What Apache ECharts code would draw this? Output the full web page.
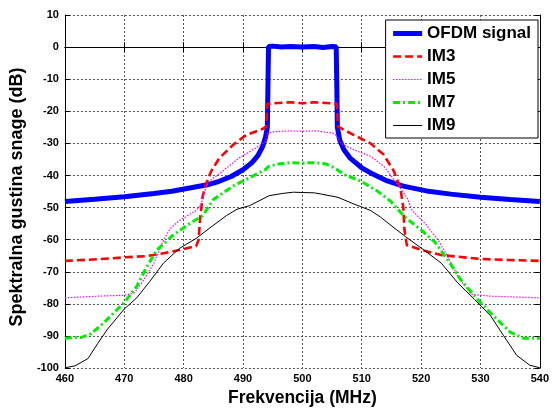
<!DOCTYPE html>
<html>
<head>
<meta charset="utf-8">
<script src="https://cdn.jsdelivr.net/npm/echarts@6/dist/echarts.min.js"></script>
<style>
html,body{margin:0;padding:0;background:#fff;}
#chart{width:552px;height:412px;}
</style>
</head>
<body>
<div id="chart"></div>
<script>
var seriesNames = ['OFDM signal', 'IM3', 'IM5', 'IM7', 'IM9'];
var xTicks = [460, 470, 480, 490, 500, 510, 520, 530, 540];
var yTicks = [10, 0, -10, -20, -30, -40, -50, -60, -70, -80, -90, -100];

var ofdmX = [460,465,470,475,478,481,484,486,488,490,491.5,492.5,493.3,493.8,494.1,494.2,494.3,495,496.5,498,500,502,503.5,505,505.7,505.8,505.9,506.3,507,508,508.7,510,511.5,514.3,517,520.9,525,530,535,540];
var ofdmY = [-48.1,-47.4,-46.6,-45.6,-44.9,-43.9,-42.9,-41.8,-40.3,-38.2,-36,-33.8,-31,-28,-25,-12,0.2,0.3,0,0.2,0,0.2,-0.1,0.2,0.1,-12,-25,-29,-32,-34.5,-35.6,-37.6,-39.2,-41.7,-43.3,-44.8,-45.8,-46.8,-47.5,-48.1];

var im3X = [460,465.5,470,473.9,476.6,479.3,482.1,482.5,482.8,483.2,483.8,484.6,486,488.3,490.5,493.3,493.9,494.1,496,498,500,502,504,505.8,506,508.7,511.5,513.7,515.4,516.5,517,517.2,517.6,520.1,523.4,526.2,530,534.5,540];
var im3Y = [-66.6,-66.1,-65.5,-65.1,-64.2,-63.2,-62,-60.2,-53,-46.5,-42.5,-38.8,-34.6,-30.5,-27.4,-25.5,-24.8,-17.7,-17.4,-17.2,-17.5,-17.2,-17.4,-17.6,-24.8,-27.4,-30,-33.5,-38.6,-43.8,-49.9,-57,-61.7,-63.2,-64.8,-65.3,-66,-66.3,-66.6];

var im5X = [460,465.5,470,471.7,473.3,475,476.6,477.7,479.3,482.1,482.9,483.5,484.2,486.6,489.3,492.1,493.8,494.1,495.1,497.5,500,502.5,505.4,506.5,508.7,511.5,513.7,515.4,517.6,518.5,520.7,522.9,524.5,526.2,528.4,531.7,535,540];
var im5Y = [-78.1,-77.6,-77.3,-76.6,-72.5,-67.3,-60.2,-56.6,-54,-50.9,-49.4,-45,-42,-38.6,-34.6,-31.5,-29.4,-26.9,-26.4,-26.1,-26.2,-26.1,-26.9,-30,-32,-34,-37.1,-41.2,-46.8,-50.9,-55,-60.2,-65.3,-71.4,-77,-77.6,-77.8,-78.1];

var im7X = [460,462.8,464.4,466.6,470,472.1,473.8,475.5,478.2,481,483.2,485,488.3,491.1,493.8,494.4,496,498,500,502,504,505.4,507,509.8,512.6,514.8,517.2,520.1,522.3,524.5,526.7,529.5,532.2,535,537.2,540];
var im7Y = [-90.7,-90.4,-89.3,-85.8,-79.6,-74.5,-68.4,-63.2,-58.6,-55,-52.5,-47.5,-43.3,-40.7,-38.1,-37.1,-36.4,-36,-36.1,-36,-36.4,-37.6,-39.7,-41.7,-44.8,-47.9,-52.8,-57.1,-60.7,-66.3,-72.5,-78.6,-83.7,-88.8,-90.7,-90.7];

var im9X = [460,461.7,463.9,465.5,467.2,470,472.1,474.3,476.6,479.3,482.1,484.8,487.2,489,491.1,494.4,496.6,498.5,500,502,503.2,506,508.7,511.5,513.2,515.1,517.4,520.1,523.4,526.2,529,531.7,533.9,536.1,538.3,540];
var im9Y = [-99.9,-99.3,-97,-92.4,-87.8,-81.6,-78.1,-73,-67.3,-62.7,-59.6,-55.8,-52.5,-50.5,-49.4,-46.3,-45.6,-45.2,-45.3,-45.4,-45.8,-46.8,-48.9,-50.9,-53,-55.8,-59.1,-62.7,-67.3,-73.5,-78.6,-83.7,-89.9,-96,-99.1,-99.9];

function zip(xs, ys) { return xs.map(function (x, i) { return [x, ys[i]]; }); }

var FONT = '"Liberation Sans", Arial, Helvetica, sans-serif';
var styles = [
  {color: '#0000ff', width: 5, type: 'solid'},
  {color: '#ff0000', width: 2.6, type: [8, 4]},
  {color: '#ff00ff', width: 1.2, type: [1.5, 1.5]},
  {color: '#00ee00', width: 3, type: [7, 3, 2, 3]},
  {color: '#000000', width: 1, type: 'solid'}
];
var datasets = [zip(ofdmX, ofdmY), zip(im3X, im3Y), zip(im5X, im5Y), zip(im7X, im7Y), zip(im9X, im9Y)];

var chart = echarts.init(document.getElementById('chart'), null, {renderer: 'canvas'});
var gridLine = {show: true, lineStyle: {color: '#555', type: [2, 2], width: 1}};
var axisLineStyle = {show: true, lineStyle: {color: '#000', width: 1}};
var labelStyle = {color: '#000', fontWeight: 'bold', fontSize: 11, fontFamily: FONT};

chart.setOption({
  animation: false,
  backgroundColor: '#fff',
  grid: {left: 59, right: 10, top: 15, bottom: 39, containLabel: false},
  xAxis: [{
    type: 'value', min: xTicks[0], max: xTicks[xTicks.length - 1], interval: 10,
    position: 'bottom',
    axisLine: axisLineStyle,
    axisTick: {show: true, inside: true, length: 5, lineStyle: {color: '#000'}},
    axisLabel: Object.assign({margin: 5}, labelStyle),
    splitLine: gridLine,
    name: 'Frekvencija (MHz)', nameLocation: 'middle', nameGap: 17,
    nameTextStyle: {color: '#000', fontWeight: 'bold', fontSize: 17.5, fontFamily: FONT}
  }, {
    type: 'value', min: xTicks[0], max: xTicks[xTicks.length - 1], interval: 10,
    position: 'top',
    axisLine: axisLineStyle,
    axisTick: {show: true, inside: true, length: 5, lineStyle: {color: '#000'}},
    axisLabel: {show: false}, splitLine: {show: false}
  }],
  yAxis: [{
    type: 'value', min: yTicks[yTicks.length - 1], max: yTicks[0], interval: 10,
    position: 'left',
    axisLine: axisLineStyle,
    axisTick: {show: true, inside: true, length: 5, lineStyle: {color: '#000'}},
    axisLabel: Object.assign({margin: 6}, labelStyle),
    splitLine: gridLine,
    name: 'Spektralna gustina snage (dB)', nameLocation: 'middle', nameGap: 30,
    nameTextStyle: {color: '#000', fontWeight: 'bold', fontSize: 18, fontFamily: FONT, padding: [0, 11, 0, 0]}
  }, {
    type: 'value', min: yTicks[yTicks.length - 1], max: yTicks[0], interval: 10,
    position: 'right',
    axisLine: axisLineStyle,
    axisTick: {show: true, inside: true, length: 5, lineStyle: {color: '#000'}},
    axisLabel: {show: false}, splitLine: {show: false}
  }],
  legend: {
    show: true,
    orient: 'vertical', right: 14, top: 20,
    itemWidth: 29, itemHeight: 14, itemGap: 6,
    padding: [5, 7, 4, 5],
    backgroundColor: '#fff', borderColor: '#000', borderWidth: 1,
    itemStyle: {color: 'rgba(0,0,0,0)', borderColor: 'rgba(0,0,0,0)', borderWidth: 0},
    lineStyle: {width: 'inherit'},
    textStyle: {color: '#000', fontWeight: 'bold', fontSize: 17, fontFamily: FONT},
    data: seriesNames
  },
  series: seriesNames.map(function (n, i) {
    return {
      name: n, type: 'line', xAxisIndex: 0, yAxisIndex: 0,
      data: datasets[i], showSymbol: false, symbol: 'none',
      lineStyle: {color: styles[i].color, width: styles[i].width, type: styles[i].type},
      itemStyle: {color: styles[i].color},
      z: 2 + i
    };
  })
});
</script>
</body>
</html>
